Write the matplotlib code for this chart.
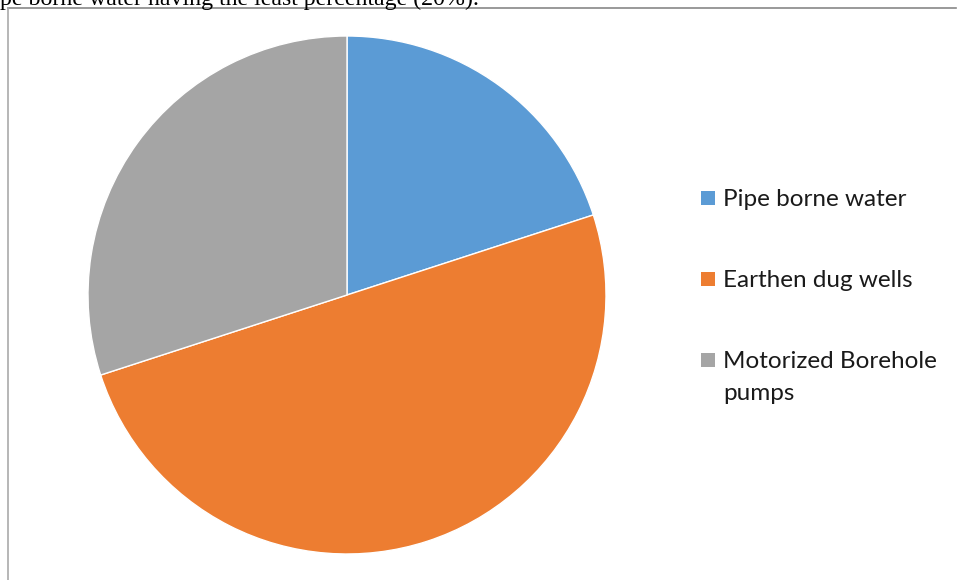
import matplotlib
matplotlib.use("Agg")
import matplotlib.pyplot as plt
from matplotlib.lines import Line2D

categories = ["Pipe borne water", "Earthen dug wells", "Motorized Borehole\npumps"]
values = [20, 50, 30]
colors = ["#5B9BD5", "#ED7D31", "#A5A5A5"]
caption = "pe borne water having the least percentage (20%)."

W, H = 958, 580
fig = plt.figure(figsize=(W / 100, H / 100), dpi=100)
fig.patch.set_facecolor("white")

# document caption (clipped at top)
fig.text(0 / W, 1 - 4.5 / H, caption, family="Liberation Serif", fontsize=17.2,
         ha="left", va="baseline", color="black")

# frame lines
fig.add_artist(Line2D([7.5 / W, 956 / W], [1 - 7.5 / H, 1 - 7.5 / H], color="#888888", lw=1.2))
fig.add_artist(Line2D([7.5 / W, 7.5 / W], [0, 1 - 7.5 / H], color="#aaaaaa", lw=1.2))

cx, cy, r = 347, 295, 259
ax = fig.add_axes([(cx - r) / W, 1 - (cy + r) / H, 2 * r / W, 2 * r / H])
ax.pie(values, colors=colors, startangle=90, counterclock=False,
       wedgeprops=dict(edgecolor="white", linewidth=1.0))
ax.set_aspect("auto")
ax.set_xlim(-1, 1)
ax.set_ylim(-1, 1)
ax.axis("off")

# legend
ys = [198, 279, 360]
fs = 17.5
for cat, col, y in zip(categories, colors, ys):
    fig.patches.append(plt.Rectangle((701 / W, 1 - (y + 7) / H), 14 / W, 14 / H,
                                     transform=fig.transFigure, facecolor=col,
                                     edgecolor="none"))
    if "\n" in cat:
        fig.text(723 / W, 1 - (y - 9) / H, cat, family="Lato", fontsize=fs,
                 ha="left", va="top", color="#1a1a1a", linespacing=1.62)
    else:
        fig.text(723 / W, 1 - (y + 1) / H, cat, family="Lato", fontsize=fs,
                 ha="left", va="center", color="#1a1a1a")

fig.savefig("out.png", dpi=100, facecolor="white")
